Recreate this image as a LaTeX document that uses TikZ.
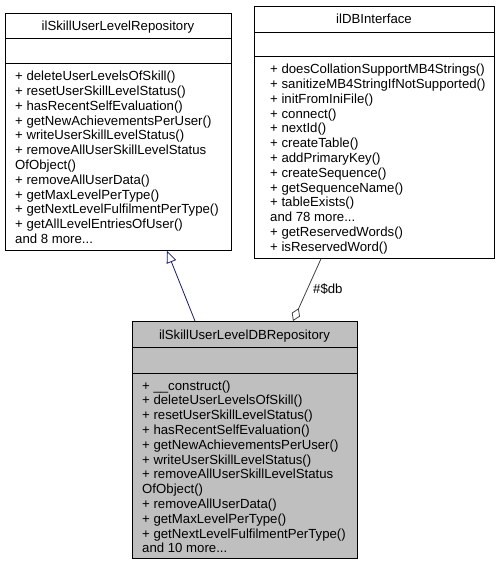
\documentclass[tikz,border=0pt]{standalone}
\usepackage{fontspec}
\setmainfont{Liberation Sans}
\usetikzlibrary{arrows.meta}
\definecolor{edgeblue}{HTML}{191970}
\definecolor{edgegray}{HTML}{404040}
\definecolor{boxgray}{HTML}{BFBFBF}
\newcommand\mydots{...}
\begin{document}
\begin{tikzpicture}[x=1pt,y=-1pt,
  box/.style={draw=black,line width=0.8pt,inner sep=0pt,anchor=north west},
  sepline/.style={draw=black,line width=0.8pt},
  mline/.style={anchor=base west,inner sep=0pt,font=\fontsize{13.2}{14.8}\selectfont},
  ttl/.style={anchor=base,inner sep=0pt,font=\fontsize{13.2}{14.8}\selectfont},
  inh/.style={draw=edgeblue,line width=0.8pt,-{Triangle[open,length=12pt,width=10pt]}},
  comp/.style={draw=edgegray,line width=0.8pt,-{Diamond[open,length=14pt,width=9pt]}}]
\useasboundingbox (0,0) rectangle (496,565);

% ---- box A: ilSkillUserLevelRepository
\node[box,minimum width=226pt,minimum height=237pt] (A) at (5,13) {};
\draw[sepline] (5,38) -- (231,38);
\draw[sepline] (5,63.5) -- (231,63.5);
\node[ttl] (At) at (118,30.1) {ilSkillUserLevelRepository};
\foreach \t [count=\i] in {{+ deleteUserLevelsOfSkill()},{+ resetUserSkillLevelStatus()},{+ hasRecentSelfEvaluation()},{+ getNewAchievementsPerUser()},{+ writeUserSkillLevelStatus()},{+ removeAllUserSkillLevelStatus},{OfObject()},{+ removeAllUserData()},{+ getMaxLevelPerType()},{+ getNextLevelFulfilmentPerType()},{+ getAllLevelEntriesOfUser()},{and 8 more\mydots}}
  {\node[mline] (a\i) at (15,{80.6+14.8*(\i-1)}) {\t};}

% ---- box B: ilDBInterface
\node[box,minimum width=240pt,minimum height=252pt] (B) at (254,6) {};
\draw[sepline] (254,32) -- (494,32);
\draw[sepline] (254,56) -- (494,56);
\node[ttl] (Bt) at (374,23.6) {ilDBInterface};
\foreach \t [count=\i] in {{+ doesCollationSupportMB4Strings()},{+ sanitizeMB4StringIfNotSupported()},{+ initFromIniFile()},{+ connect()},{+ nextId()},{+ createTable()},{+ addPrimaryKey()},{+ createSequence()},{+ getSequenceName()},{+ tableExists()},{and 78 more\mydots},{+ getReservedWords()},{+ isReservedWord()}}
  {\node[mline] (b\i) at (270,{73.6+14.8*(\i-1)}) {\t};}

% ---- box C: ilSkillUserLevelDBRepository
\node[box,fill=boxgray,minimum width=225pt,minimum height=237pt] (C) at (132,321) {};
\draw[sepline] (132,347.5) -- (357,347.5);
\draw[sepline] (132,373) -- (357,373);
\node[ttl] (Ct) at (244.5,339.1) {ilSkillUserLevelDBRepository};
\foreach \t [count=\i] in {{+ \_\_construct()},{+ deleteUserLevelsOfSkill()},{+ resetUserSkillLevelStatus()},{+ hasRecentSelfEvaluation()},{+ getNewAchievementsPerUser()},{+ writeUserSkillLevelStatus()},{+ removeAllUserSkillLevelStatus},{OfObject()},{+ removeAllUserData()},{+ getMaxLevelPerType()},{+ getNextLevelFulfilmentPerType()},{and 10 more\mydots}}
  {\node[mline] (c\i) at (142,{390.1+14.8*(\i-1)}) {\t};}

% ---- connectors
\draw[inh] ([xshift=63pt]C.north west) -- ([xshift=162pt]A.south west);
\draw[comp] ([xshift=67pt]B.south west) -- ([xshift=161pt]C.north west);
\node[mline] (dbl) at (313,293.6) {\#\$db};
\end{tikzpicture}
\end{document}
